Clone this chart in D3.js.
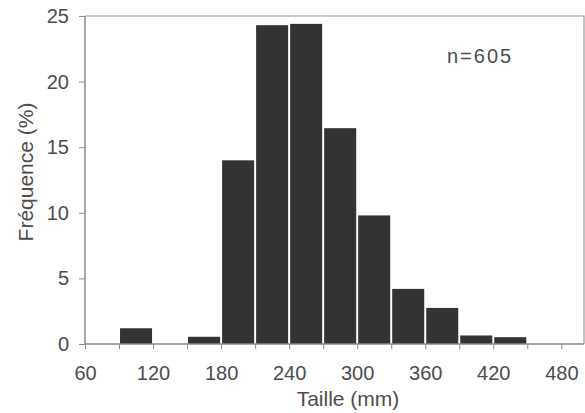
<!DOCTYPE html>
<html>
<head>
<meta charset="utf-8">
<script src="https://cdn.jsdelivr.net/npm/d3@7/dist/d3.min.js"></script>
<style>
  body { margin: 0; background: #fff; }
  text { font-family: "Liberation Sans", Arial, sans-serif; fill: #4d4d4d; }
</style>
</head>
<body>
<div id="dv"></div>
<script>
// histogram bins (mm) and frequency (%)
var binStart = [90, 120, 150, 180, 210, 240, 270, 300, 330, 360, 390, 420];
var binEnd = [120, 150, 180, 210, 240, 270, 300, 330, 360, 390, 420, 450];
var freq = [1.2, 0, 0.55, 14.0, 24.3, 24.4, 16.45, 9.8, 4.2, 2.75, 0.65, 0.52];
var xTicks = [60, 90, 120, 150, 180, 210, 240, 270, 300, 330, 360, 390, 420, 450, 480];
var xLabels = [60, 120, 180, 240, 300, 360, 420, 480];
var yTicks = [0, 5, 10, 15, 20, 25];

var width = 585;
var height = 413;
var padLeft = 85, padRight = 584, padTop = 16, padBottom = 344;

var svg = d3
  .select("div#dv")
  .append("svg")
  .attr("width", width)
  .attr("height", height);

var x = d3.scaleLinear().domain([60, 500]).range([padLeft, padRight]);
var y = d3.scaleLinear().domain([0, 25]).range([padBottom, padTop]);

var data = freq.map(function(f, i) {
  return { x0: binStart[i], x1: binEnd[i], f: f };
});

// bars
svg
  .selectAll("rect.bar")
  .data(data.filter(function(d) { return d.f > 0; }))
  .enter()
  .append("rect")
  .attr("class", "bar")
  .attr("x", function(d) { return x(d.x0) + 1; })
  .attr("width", function(d) { return x(d.x1) - x(d.x0) - 2; })
  .attr("y", function(d) { return y(d.f); })
  .attr("height", function(d) { return y(0) - y(d.f); })
  .attr("fill", "#333");

// frame top + right
svg
  .append("path")
  .attr("d", "M" + padLeft + "," + padTop + "H" + padRight + "V" + padBottom)
  .attr("fill", "none")
  .attr("stroke", "#9a9a9a")
  .attr("stroke-width", 1.2);

// x axis
var xAxis = d3.axisBottom(x).tickValues(xTicks).tickSize(5).tickFormat(function(d) {
  return xLabels.indexOf(d) >= 0 ? d : "";
});
var gx = svg
  .append("g")
  .attr("transform", "translate(0," + padBottom + ")")
  .call(xAxis);
gx.select(".domain").attr("d", "M" + padLeft + ",0H" + padRight).attr("stroke", "#8a8a8a").attr("stroke-width", 1.5);
gx.selectAll(".tick line").attr("stroke", "#8a8a8a");
gx.attr("font-size", null).attr("font-family", null);
gx.selectAll(".tick text")
  .attr("y", 22)
  .style("font-size", "20px")
  .attr("fill", "#4d4d4d");

// y axis
var yAxis = d3.axisLeft(y).tickValues(yTicks).tickSize(6).tickPadding(10);
var gy = svg
  .append("g")
  .attr("transform", "translate(" + padLeft + ",0)")
  .call(yAxis);
gy.select(".domain").attr("d", "M0," + padTop + "V" + padBottom).attr("stroke", "#8a8a8a").attr("stroke-width", 1.5);
gy.selectAll(".tick line").attr("stroke", "#8a8a8a");
gy.attr("font-size", null).attr("font-family", null);
gy.selectAll(".tick text")
  .style("font-size", "20px")
  .attr("fill", "#4d4d4d");

// axes labels
svg
  .append("text")
  .attr("x", 348)
  .attr("y", 406)
  .style("text-anchor", "middle")
  .style("font-size", "21px")
  .text("Taille (mm)");

svg
  .append("text")
  .attr("transform", "translate(33,172) rotate(-90)")
  .style("text-anchor", "middle")
  .style("font-size", "21px")
  .text("Fréquence (%)");

svg
  .append("text")
  .attr("x", 447)
  .attr("y", 63)
  .style("font-size", "20px")
  .style("letter-spacing", "2px")
  .text("n=605");
</script>
</body>
</html>
